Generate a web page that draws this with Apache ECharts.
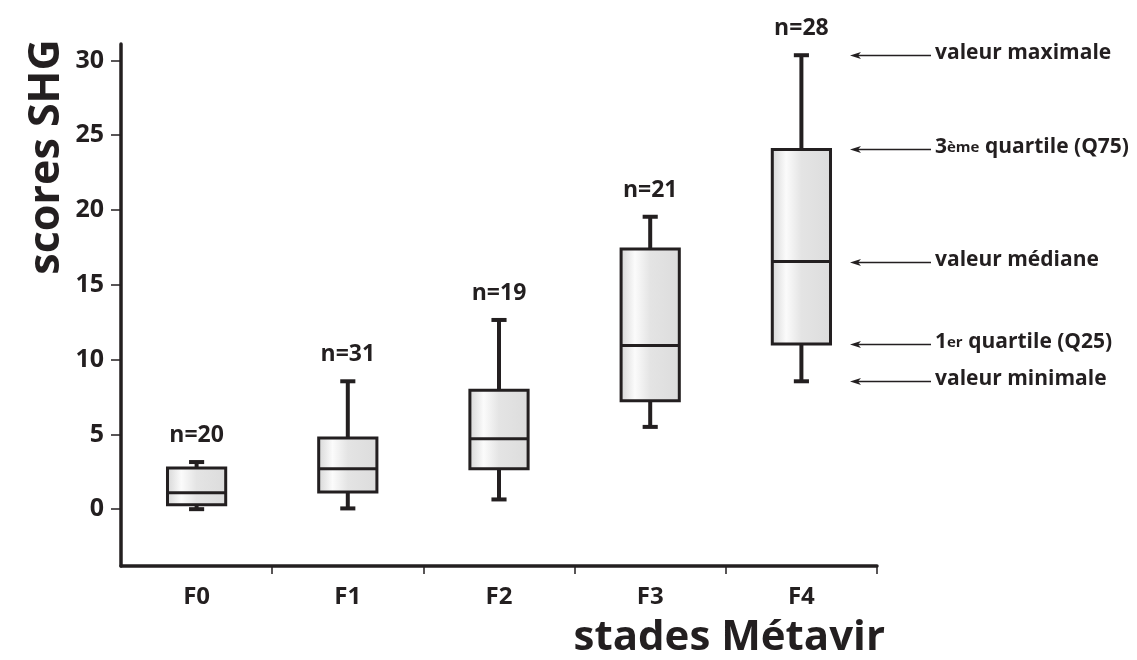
<!DOCTYPE html>
<html>
<head>
<meta charset="utf-8">
<script src="https://cdn.jsdelivr.net/npm/echarts@6/dist/echarts.min.js"></script>
<style>
html,body{margin:0;padding:0;background:#fff;}
#chart{width:1137px;height:660px;}
</style>
</head>
<body>
<div id="chart"></div>
<script>
var categories = ['F0', 'F1', 'F2', 'F3', 'F4'];
var minValues = [0.0, 0.05, 0.65, 5.5, 8.55];
var q1Values = [0.3, 1.15, 2.7, 7.25, 11.05];
var medianValues = [1.1, 2.7, 4.7, 10.95, 16.55];
var q3Values = [2.75, 4.75, 7.95, 17.4, 24.05];
var maxValues = [3.15, 8.55, 12.65, 19.55, 30.35];
var nCounts = [20, 31, 19, 21, 28];
var yTickValues = [0, 5, 10, 15, 20, 25, 30];
var annotLabels = [
  'valeur maximale',
  '{n|3}{s|ème} {n|quartile (Q75)}',
  'valeur médiane',
  '{n|1}{s|er} {n|quartile (Q25)}',
  'valeur minimale'
];
var annotSeriesIndex = 4;

var INK = '#231f20';
var FONT = '"Open Sans", "Noto Sans", sans-serif';

var boxData = categories.map(function (c, i) {
  return [i, minValues[i], q1Values[i], medianValues[i], q3Values[i], maxValues[i]];
});
var nData = categories.map(function (c, i) {
  return [i, maxValues[i], nCounts[i]];
});

var chart = echarts.init(document.getElementById('chart'), null, {renderer: 'canvas'});

function renderBox(params, api) {
  var i = api.value(0);
  var pMin = api.coord([i, api.value(1)]);
  var pQ1 = api.coord([i, api.value(2)]);
  var pMed = api.coord([i, api.value(3)]);
  var pQ3 = api.coord([i, api.value(4)]);
  var pMax = api.coord([i, api.value(5)]);
  var band = api.size([1, 0])[0];
  var bw = band * 0.385;
  var cw = band * 0.1;
  var x = pMed[0];
  var lineStyle = {stroke: INK, lineWidth: 4, fill: null};
  return {
    type: 'group',
    children: [
      {type: 'line', shape: {x1: x, y1: pQ3[1], x2: x, y2: pMax[1]}, style: lineStyle},
      {type: 'line', shape: {x1: x - cw / 2, y1: pMax[1], x2: x + cw / 2, y2: pMax[1]}, style: lineStyle},
      {type: 'line', shape: {x1: x, y1: pQ1[1], x2: x, y2: pMin[1]}, style: lineStyle},
      {type: 'line', shape: {x1: x - cw / 2, y1: pMin[1], x2: x + cw / 2, y2: pMin[1]}, style: lineStyle},
      {
        type: 'rect',
        shape: {x: x - bw / 2, y: pQ3[1], width: bw, height: pQ1[1] - pQ3[1]},
        style: {
          fill: {
            type: 'linear', x: 0, y: 0, x2: 1, y2: 0,
            colorStops: [
              {offset: 0, color: '#d4d4d4'},
              {offset: 0.25, color: '#fbfbfb'},
              {offset: 0.5, color: '#e4e4e4'},
              {offset: 1, color: '#dcdcdc'}
            ]
          },
          stroke: INK,
          lineWidth: 3
        }
      },
      {type: 'line', shape: {x1: x - bw / 2, y1: pMed[1], x2: x + bw / 2, y2: pMed[1]}, style: {stroke: INK, lineWidth: 3}}
    ]
  };
}

var option = {
  backgroundColor: '#ffffff',
  animation: false,
  grid: {left: 121, right: 260, top: 44, bottom: 94, containLabel: false},
  xAxis: {
    type: 'category',
    data: categories,
    boundaryGap: true,
    axisLine: {show: true, onZero: false, lineStyle: {color: INK, width: 3.5}},
    axisTick: {show: true, interval: function (i) { return i > 0; }, length: 8, lineStyle: {color: INK, width: 1.5}},
    axisLabel: {interval: 0, margin: 19, fontSize: 24, fontWeight: 'bold', color: INK, fontFamily: FONT},
    splitLine: {show: false}
  },
  yAxis: {
    type: 'value',
    min: -3.8,
    max: 31.1,
    axisLine: {show: true, onZero: false, lineStyle: {color: INK, width: 3.5}},
    axisTick: {show: true, length: 10, customValues: yTickValues, lineStyle: {color: INK, width: 1.5}},
    axisLabel: {customValues: yTickValues, margin: 17, fontSize: 25, fontWeight: 'bold', color: INK, fontFamily: FONT},
    splitLine: {show: false}
  },
  series: [
    {
      type: 'custom',
      renderItem: renderBox,
      data: boxData,
      encode: {x: 0, y: [1, 2, 3, 4, 5]},
      z: 3
    },
    {
      type: 'scatter',
      data: nData,
      symbolSize: 0,
      silent: true,
      itemStyle: {opacity: 1, color: INK},
      label: {
        show: true,
        position: 'top',
        distance: 15,
        formatter: function (p) { return 'n=' + p.data[2]; },
        fontSize: 23,
        fontWeight: 'bold',
        color: INK,
        opacity: 1,
        fontFamily: FONT
      }
    }
  ],
  graphic: [
    {
      type: 'text',
      x: 47, y: 157,
      rotation: Math.PI / 2,
      style: {text: 'scores SHG', fontSize: 43, fontWeight: 'bold', fill: INK, fontFamily: FONT, align: 'center', verticalAlign: 'middle'}
    },
    {
      type: 'text',
      x: 885, y: 638,
      style: {text: 'stades Métavir', fontSize: 42, fontWeight: 'bold', fill: INK, fontFamily: FONT, align: 'right', verticalAlign: 'middle'}
    }
  ]
};
chart.setOption(option);

// Annotation arrows next to the F4 box, positioned through the y scale
var f4Stats = [maxValues[annotSeriesIndex], q3Values[annotSeriesIndex], medianValues[annotSeriesIndex], q1Values[annotSeriesIndex], minValues[annotSeriesIndex]];
var extra = [];
f4Stats.forEach(function (v, k) {
  var p = chart.convertToPixel({xAxisIndex: 0, yAxisIndex: 0}, [annotSeriesIndex, v]);
  var y = Math.round(p[1]) + 0.5;
  extra.push({type: 'line', shape: {x1: 856, y1: y, x2: 931, y2: y}, style: {stroke: INK, lineWidth: 1.3}});
  extra.push({type: 'polygon', shape: {points: [[850, y], [861, y - 3.5], [858, y], [861, y + 3.5]]}, style: {fill: INK}});
  extra.push({
    type: 'text', x: 935, y: y - 2,
    style: {
      text: annotLabels[k],
      fontSize: 21, fontWeight: 'bold', fill: INK, fontFamily: FONT, verticalAlign: 'middle', align: 'left',
      rich: {
        n: {fontSize: 21, fontWeight: 'bold', fill: INK, fontFamily: FONT},
        s: {fontSize: 15, fontWeight: 'bold', fill: INK, fontFamily: FONT, verticalAlign: 'bottom', padding: [0, 0, 3, 0]}
      }
    }
  });
});
chart.setOption({graphic: option.graphic.concat(extra)});
</script>
</body>
</html>
